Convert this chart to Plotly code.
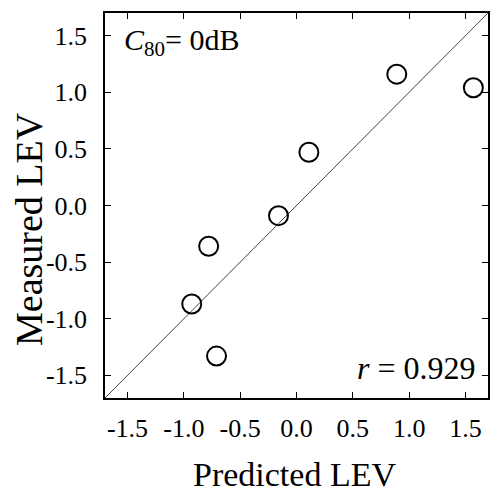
import plotly.graph_objects as go

# Predicted vs. measured LEV, C80 = 0 dB condition
predicted = [0.89, 1.57, 0.11, -0.16, -0.78, -0.93, -0.71]
measured = [1.16, 1.04, 0.47, -0.09, -0.36, -0.87, -1.33]

tick_vals = [-1.5, -1.0, -0.5, 0.0, 0.5, 1.0, 1.5]
tick_text = ["-1.5", "-1.0", "-0.5", "0.0", "0.5", "1.0", "1.5"]
axis_range = [-1.7, 1.7]

FONT = "Liberation Serif, Times New Roman, serif"

fig = go.Figure()

# identity line y = x
fig.add_trace(go.Scatter(
    x=axis_range, y=axis_range, mode="lines",
    line=dict(color="#444444", width=1), hoverinfo="skip", showlegend=False,
))

fig.add_trace(go.Scatter(
    x=predicted, y=measured, mode="markers",
    marker=dict(symbol="circle-open", size=19, color="black",
                line=dict(color="black", width=2)),
    showlegend=False,
))

axis_common = dict(
    range=axis_range, tickvals=tick_vals, ticktext=tick_text,
    ticks="inside", ticklen=6, tickwidth=1, tickcolor="black",
    showline=True, linecolor="black", linewidth=1.5, mirror="ticks",
    showgrid=False, zeroline=False,
    tickfont=dict(family=FONT, size=26, color="black"),
)

fig.update_xaxes(**axis_common, ticklabelstandoff=6)
fig.update_yaxes(**axis_common, ticklabelstandoff=11)

# axis titles
fig.add_annotation(
    x=0.495, y=-0.198, xref="paper", yref="paper",
    xanchor="center", yanchor="middle",
    text="Predicted LEV", showarrow=False,
    font=dict(family=FONT, size=34, color="black"),
)
fig.add_annotation(
    x=-0.2, y=0.44, xref="paper", yref="paper",
    xanchor="center", yanchor="middle", textangle=-90,
    text="Measured LEV", showarrow=False,
    font=dict(family=FONT, size=38, color="black"),
)

fig.add_annotation(
    x=0.045, y=0.98, xref="paper", yref="paper", xanchor="left", yanchor="top",
    text="<i>C</i><sub>80</sub>= 0dB", showarrow=False,
    font=dict(family=FONT, size=30, color="black"),
)
fig.add_annotation(
    x=0.975, y=0.025, xref="paper", yref="paper", xanchor="right", yanchor="bottom",
    text="<i>r</i> = 0.929", showarrow=False,
    font=dict(family=FONT, size=32, color="black"),
)

fig.update_layout(
    width=491, height=492,
    margin=dict(l=105, r=1, t=13, b=94),
    paper_bgcolor="white", plot_bgcolor="white",
)

fig.write_html("out.html")
